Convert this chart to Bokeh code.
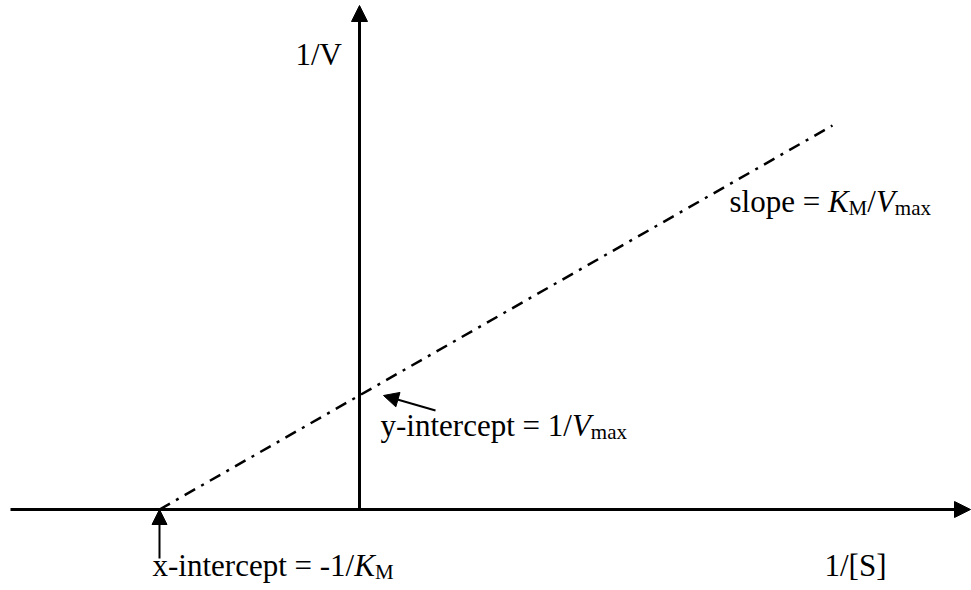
from bokeh.plotting import figure
from bokeh.models import Range1d, Arrow, NormalHead
from bokeh.core.properties import value
from bokeh.embed import file_html
from bokeh.resources import INLINE

# ---- chart values (Lineweaver-Burk plot, arbitrary units) ----
x_intercept = -2.0          # -1/K_M
y_intercept = 1.14          # 1/V_max
line_x = [-2.0, 4.73]       # 1/[S]
line_y = [0.0, 3.84]        # 1/V
axis_x = [-3.49, 6.11]
axis_y = [0.0, 5.04]

# ---- texts ----
label_yaxis = [("1/V", False, False)]
label_xaxis = [("1/[S]", False, False)]
label_slope = [("slope = ", False, False), ("K", True, False), ("M", False, True),
               ("/", False, False), ("V", True, False), ("max", False, True)]
label_yint = [("y-intercept = 1/", False, False), ("V", True, False), ("max", False, True)]
label_xint = [("x-intercept = -1/", False, False), ("K", True, False), ("M", False, True)]

FONT = "Liberation Serif"
MAIN = 31
SUB = 21
SUB_DROP = 2
BASE_FIX = 0.39   # renderer places alphabetic text slightly low; lift it

# Times / Liberation Serif advance widths (1/1000 em)
REG = {' ': 250, '-': 333, '/': 278, '=': 564, '1': 500, '[': 333, ']': 333, 'S': 556,
       'V': 722, 'M': 889, 'K': 722, 'a': 444, 'c': 444, 'e': 444, 'i': 278, 'l': 278,
       'm': 778, 'n': 500, 'o': 500, 'p': 500, 'r': 333, 's': 389, 't': 278, 'x': 500,
       'y': 500}
ITA = {'K': 667, 'V': 611, 'M': 833}


def text_width(txt, italic, size):
    table = ITA if italic else REG
    return sum(table.get(ch, REG.get(ch, 500)) for ch in txt) * size / 1000.0


p = figure(width=971, height=590, x_range=Range1d(-3.59, 6.12), y_range=Range1d(-0.81, 5.09),
           output_backend="svg", toolbar_location=None, min_border=0,
           x_axis_type=None, y_axis_type=None)
p.grid.visible = False
p.outline_line_color = None
p.background_fill_color = "white"
p.border_fill_color = "white"

# axes with arrow heads
p.add_layout(Arrow(x_start=axis_x[0], y_start=0, x_end=axis_x[1], y_end=0, line_width=3,
                   line_color="black",
                   end=NormalHead(size=16, fill_color="black", line_color="black", line_width=1)))
p.add_layout(Arrow(x_start=0, y_start=axis_y[0], x_end=0, y_end=axis_y[1], line_width=3,
                   line_color="black",
                   end=NormalHead(size=16, fill_color="black", line_color="black", line_width=1)))

# the dash-dot line
p.line(line_x, line_y, line_width=2.5, line_color="black", line_dash="12 7 3 7")

# pointer arrows
p.add_layout(Arrow(x_start=x_intercept, y_start=-0.49, x_end=x_intercept, y_end=0.0,
                   line_width=2, line_color="black",
                   end=NormalHead(size=15, fill_color="black", line_color="black", line_width=1)))
p.add_layout(Arrow(x_start=0.76, y_start=0.99, x_end=0.24, y_end=y_intercept,
                   line_width=2, line_color="black",
                   end=NormalHead(size=15, fill_color="black", line_color="black", line_width=1)))


def draw_rich(x, y, parts):
    off = 0.0
    for txt, italic, sub in parts:
        size = SUB if sub else MAIN
        dy = -round(BASE_FIX * size) + (SUB_DROP if sub else 0)
        p.text(x=[x], y=[y], text=[txt], x_offset=off, y_offset=dy,
               text_font=value(FONT), text_font_size=f"{size}px",
               text_font_style="italic" if italic else "normal",
               text_baseline="alphabetic", text_align="left", text_color="black")
        off += text_width(txt, italic, size)


draw_rich(-0.64, 4.43, label_yaxis)
draw_rich(3.70, 2.96, label_slope)
draw_rich(0.21, 0.72, label_yint)
draw_rich(-2.07, -0.68, label_xint)
draw_rich(4.65, -0.68, label_xaxis)

open("out.html", "w").write(file_html(p, INLINE))
